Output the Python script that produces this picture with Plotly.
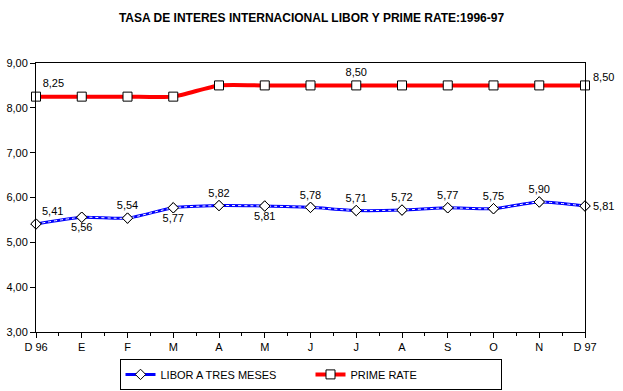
import plotly.graph_objects as go

months = ["D 96", "E", "F", "M", "A", "M", "J", "J", "A", "S", "O", "N", "D 97"]
libor = [5.41, 5.56, 5.54, 5.77, 5.82, 5.81, 5.78, 5.71, 5.72, 5.77, 5.75, 5.90, 5.81]
prime = [8.25, 8.25, 8.25, 8.25, 8.50, 8.50, 8.50, 8.50, 8.50, 8.50, 8.50, 8.50, 8.50]
y_ticks = [3, 4, 5, 6, 7, 8, 9]
y_tick_labels = ["3,00", "4,00", "5,00", "6,00", "7,00", "8,00", "9,00"]

x = list(range(len(months)))
fmt = lambda v: f"{v:.2f}".replace(".", ",")
last = len(months) - 1

libor_pos = ["top right", "bottom center", "top center", "bottom center", "top center",
             "bottom center", "top center", "top center", "top center", "top center",
             "top center", "top center", "middle right"]
libor_text = [fmt(v) if i != last else "" for i, v in enumerate(libor)]
prime_show = [0, 7]
prime_text = [fmt(v) if i in prime_show else "" for i, v in enumerate(prime)]
prime_pos = ["top right" if i == 0 else "top center" for i in range(len(prime))]

font = "Liberation Sans, Arial, sans-serif"
fig = go.Figure()

fig.add_trace(go.Scatter(
    x=x, y=libor, mode="lines+markers+text", name="LIBOR A TRES MESES",
    line=dict(color="#0000FF", width=3, shape="spline", smoothing=0.6),
    marker=dict(symbol="diamond", size=8, color="white", line=dict(color="black", width=1)),
    text=libor_text, textposition=libor_pos,
    textfont=dict(family=font, size=11, color="black"), cliponaxis=False))
fig.add_trace(go.Scatter(
    x=x, y=libor, mode="lines", showlegend=False, hoverinfo="skip",
    line=dict(color="white", width=1, dash="dot", shape="spline", smoothing=0.6)))
fig.add_trace(go.Scatter(
    x=x, y=libor, mode="markers", showlegend=False, hoverinfo="skip",
    marker=dict(symbol="diamond", size=8, color="white", line=dict(color="black", width=1)),
    cliponaxis=False))

fig.add_trace(go.Scatter(
    x=x, y=prime, mode="lines+markers+text", name="PRIME RATE",
    line=dict(color="#FF0000", width=4, shape="spline", smoothing=0.6),
    marker=dict(symbol="square", size=9, color="white", line=dict(color="black", width=1)),
    text=prime_text, textposition=prime_pos,
    textfont=dict(family=font, size=11, color="black"), cliponaxis=False))

# end-of-series labels on the right
fig.add_annotation(x=x[last], y=prime[last], text=fmt(prime[last]), showarrow=False,
                   xanchor="left", yanchor="middle", xshift=6, yshift=8,
                   font=dict(family=font, size=11, color="black"))
fig.add_annotation(x=x[last], y=libor[last], text=fmt(libor[last]), showarrow=False,
                   xanchor="left", yanchor="middle", xshift=6, yshift=0,
                   font=dict(family=font, size=11, color="black"))

fig.update_layout(
    width=623, height=391,
    margin=dict(l=36, r=38, t=63, b=59, autoexpand=False),
    paper_bgcolor="white", plot_bgcolor="white",
    font=dict(family=font, size=11, color="black"),
    title=dict(text="<b>TASA DE INTERES INTERNACIONAL LIBOR Y PRIME RATE:1996-97</b>",
               x=0.5, xanchor="center", y=0.955, yanchor="middle",
               font=dict(family=font, size=12, color="black")),
    showlegend=True,
    legend=dict(orientation="h", x=0.5, xanchor="center", y=-0.1, yanchor="top",
                bordercolor="black", borderwidth=1, entrywidth=145, tracegroupgap=0,
                font=dict(family=font, size=11, color="black")),
)
fig.update_xaxes(
    range=[0, 12], tickvals=x, ticktext=months, showgrid=False, zeroline=False,
    showline=True, linecolor="black", linewidth=1, mirror=True,
    ticks="outside", ticklen=5, tickcolor="black",
    minor=dict(dtick=0.5, tick0=0, ticks="outside", ticklen=3, tickcolor="black", showgrid=False),
    tickfont=dict(family=font, size=11))
fig.update_yaxes(
    range=[3, 9], tickvals=y_ticks, ticktext=y_tick_labels, showgrid=False, zeroline=False,
    showline=True, linecolor="black", linewidth=1, mirror=True,
    ticks="outside", ticklen=5, tickcolor="black", tickfont=dict(family=font, size=11))

fig.write_html("out.html", config={"displayModeBar": False},
               post_script="document.body.style.margin='0';document.body.style.padding='0';"
                           "document.documentElement.style.overflow='hidden';")
